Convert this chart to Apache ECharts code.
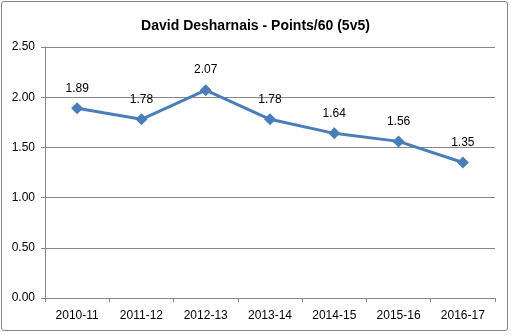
<!DOCTYPE html>
<html>
<head>
<meta charset="utf-8">
<script src="https://cdn.jsdelivr.net/npm/echarts@6/dist/echarts.min.js"></script>
<style>
  html, body { margin: 0; padding: 0; background: #fff; }
  #frame { position: absolute; left: 1px; top: 1px; width: 507px; height: 330px;
           border: 1px solid #868686; border-radius: 3px; box-sizing: border-box; }
  #chart { position: absolute; left: 0; top: 0; width: 511px; height: 335px; }
</style>
</head>
<body>
<div id="frame"></div>
<div id="chart"></div>
<script>
// Seasons and 5v5 points per 60 minutes
const seasons = ['2010-11', '2011-12', '2012-13', '2013-14', '2014-15', '2015-16', '2016-17'];
const pointsPer60 = [1.89, 1.78, 2.07, 1.78, 1.64, 1.56, 1.35];

const font = 'Liberation Sans, Arial, sans-serif';
const chart = echarts.init(document.getElementById('chart'), null, { renderer: 'canvas' });
chart.setOption({
  animation: false,
  title: {
    text: 'David Desharnais - Points/60 (5v5)',
    left: 'center', top: 14,
    textStyle: { fontFamily: font, fontSize: 14, fontWeight: 'bold', color: '#000' }
  },
  grid: { left: 45, right: 16, top: 47, bottom: 37 },
  xAxis: {
    type: 'category',
    data: seasons,
    boundaryGap: true,
    axisLine: { lineStyle: { color: '#868686', width: 1 } },
    axisTick: { show: true, length: 4, lineStyle: { color: '#868686' }, alignWithLabel: false },
    axisLabel: { fontFamily: font, fontSize: 12, color: '#000', margin: 12 }
  },
  yAxis: {
    type: 'value',
    min: 0, max: 2.5, interval: 0.5,
    axisLine: { show: true, lineStyle: { color: '#868686', width: 1 } },
    axisTick: { show: true, length: 4, lineStyle: { color: '#868686' } },
    axisLabel: { fontFamily: font, fontSize: 12, color: '#000', margin: 10,
                 formatter: v => v.toFixed(2) },
    splitLine: { lineStyle: { color: '#868686', width: 1 } }
  },
  series: [{
    type: 'line',
    data: pointsPer60,
    symbol: 'diamond',
    symbolSize: 12,
    lineStyle: { color: '#4A7EBB', width: 3 },
    itemStyle: { color: '#4A7EBB' },
    label: {
      show: true, position: 'top', distance: 8,
      fontFamily: font, fontSize: 12, color: '#000',
      formatter: p => p.value.toFixed(2)
    }
  }]
});
</script>
</body>
</html>
